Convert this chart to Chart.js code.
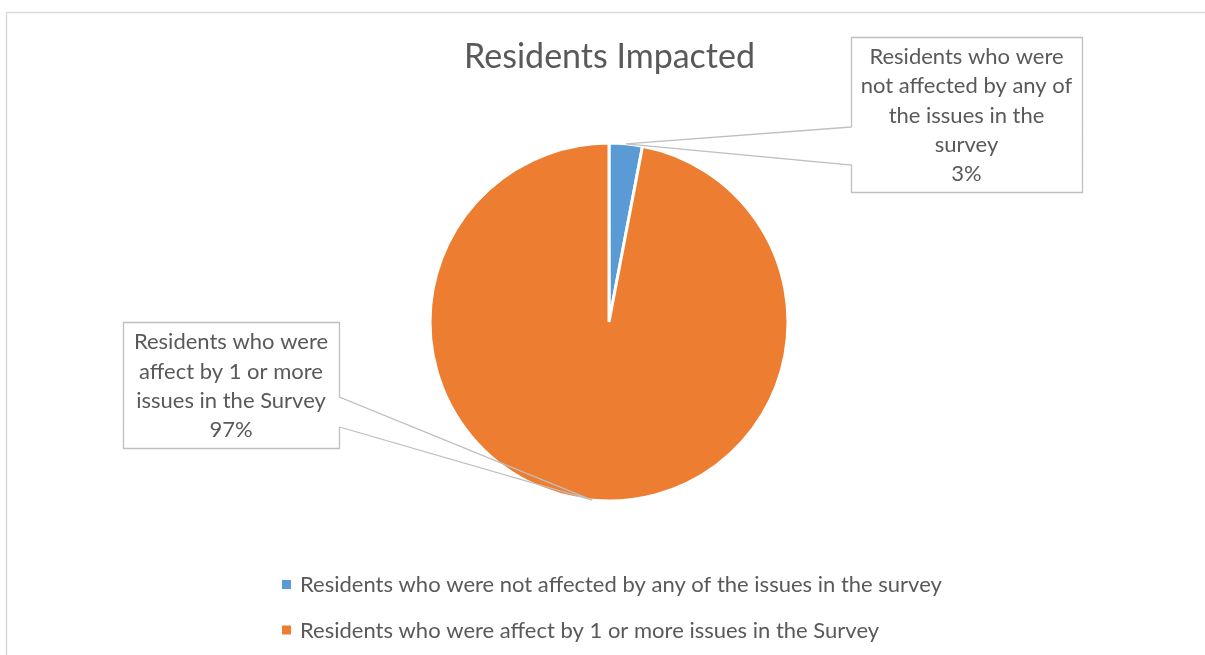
<!DOCTYPE html>
<html>
<head>
<title>Residents Impacted</title>
<script src="https://cdn.jsdelivr.net/npm/chart.js"></script>
<style>
 body { margin: 0; background: #fff; }
 #chart { display: block; }
</style>
</head>
<body>
<canvas id="chart" width="1205" height="655"></canvas>
<script>
 // Survey breakdown
 const labels = [
  'Residents who were not affected by any of the issues in the survey',
  'Residents who were affect by 1 or more issues in the Survey'
 ];
 const values = [3, 97];
 const colors = ['#5B9BD5', '#ED7D31'];
 // how each label is broken up inside its callout box
 const calloutLines = [
  ['Residents who were', 'not affected by any of', 'the issues in the', 'survey'],
  ['Residents who were', 'affect by 1 or more', 'issues in the Survey']
 ];
 const chartTitle = 'Residents Impacted';

 const textColor = '#595959';
 const lineColor = '#BFBFBF';
 const fontFamily = 'Lato, "Liberation Sans", sans-serif';

 // callout boxes; n1/n2 = where the leader leaves the box edge
 const callouts = [
  { x: 851, y: 37, w: 231, h: 155, side: 'left', n1: 127, n2: 165 },
  { x: 123, y: 322, w: 216, h: 126, side: 'right', n1: 397, n2: 427 }
 ];

 function pct(i) {
  const total = values.reduce((a, b) => a + b, 0);
  return Math.round(values[i] / total * 100) + '%';
 }

 // outer frame + title
 const framePlugin = {
  id: 'frame',
  beforeDraw(chart) {
   const ctx = chart.ctx;
   const area = chart.chartArea;
   ctx.save();
   ctx.strokeStyle = '#D9D9D9';
   ctx.lineWidth = 1.5;
   ctx.beginPath();
   ctx.moveTo(6.5, chart.height);
   ctx.lineTo(6.5, 12.5);
   ctx.lineTo(chart.width, 12.5);
   ctx.stroke();

   ctx.fillStyle = textColor;
   ctx.font = '34px ' + fontFamily;
   ctx.textAlign = 'center';
   ctx.textBaseline = 'alphabetic';
   ctx.fillText(chartTitle, (area.left + area.right) / 2 + 0.5, 68);
   ctx.restore();
  }
 };

 // data callouts with leader lines pointing at each slice
 const calloutPlugin = {
  id: 'callouts',
  afterDatasetsDraw(chart) {
   const ctx = chart.ctx;
   const meta = chart.getDatasetMeta(0);
   meta.data.forEach((arc, i) => {
    const c = callouts[i];
    const mid = (arc.startAngle + arc.endAngle) / 2;
    const tx = arc.x + Math.cos(mid) * arc.outerRadius;
    const ty = arc.y + Math.sin(mid) * arc.outerRadius;
    const l = c.x + 0.5, r = c.x + c.w + 0.5, t = c.y + 0.5, b = c.y + c.h + 0.5;

    ctx.save();
    ctx.fillStyle = '#fff';
    ctx.fillRect(c.x, c.y, c.w, c.h);
    ctx.beginPath();
    if (c.side === 'left') {
     ctx.moveTo(l, c.n1);
     ctx.lineTo(l, t);
     ctx.lineTo(r, t);
     ctx.lineTo(r, b);
     ctx.lineTo(l, b);
     ctx.lineTo(l, c.n2);
     ctx.lineTo(tx, ty);
     ctx.lineTo(l, c.n1);
    } else {
     ctx.moveTo(r, c.n2);
     ctx.lineTo(r, b);
     ctx.lineTo(l, b);
     ctx.lineTo(l, t);
     ctx.lineTo(r, t);
     ctx.lineTo(r, c.n1);
     ctx.lineTo(tx, ty);
     ctx.lineTo(r, c.n2);
    }
    ctx.strokeStyle = lineColor;
    ctx.lineWidth = 1.3;
    ctx.stroke();

    const lines = calloutLines[i].concat([pct(i)]);
    const lh = 29.3;
    let y = c.y + (c.h - lines.length * lh) / 2 + lh * 0.78;
    ctx.fillStyle = textColor;
    ctx.font = '22px ' + fontFamily;
    ctx.textAlign = 'center';
    ctx.textBaseline = 'alphabetic';
    lines.forEach(s => {
     ctx.fillText(s, c.x + c.w / 2, y);
     y += lh;
    });
    ctx.restore();
   });
  }
 };

 // legend stacked under the pie, left aligned
 const legendPlugin = {
  id: 'stackLegend',
  afterDraw(chart) {
   const ctx = chart.ctx;
   ctx.save();
   ctx.font = '22px ' + fontFamily;
   ctx.textAlign = 'left';
   ctx.textBaseline = 'alphabetic';
   labels.forEach((s, i) => {
    const base = 592 + i * 45.5;
    ctx.fillStyle = colors[i];
    ctx.fillRect(282, base - 12, 9, 9);
    ctx.fillStyle = textColor;
    ctx.fillText(s, 300, base);
   });
   ctx.restore();
  }
 };

 new Chart(document.getElementById('chart'), {
  type: 'pie',
  data: {
   labels: labels,
   datasets: [{
    data: values,
    backgroundColor: colors,
    borderColor: '#ffffff',
    borderWidth: 3
   }]
  },
  options: {
   responsive: false,
   animation: false,
   events: [],
   radius: 179,
   layout: { padding: { top: 143, bottom: 154, left: 13, right: 0 } },
   plugins: {
    legend: { display: false },
    tooltip: { enabled: false },
    title: { display: false }
   }
  },
  plugins: [framePlugin, calloutPlugin, legendPlugin]
 });
</script>
</body>
</html>
